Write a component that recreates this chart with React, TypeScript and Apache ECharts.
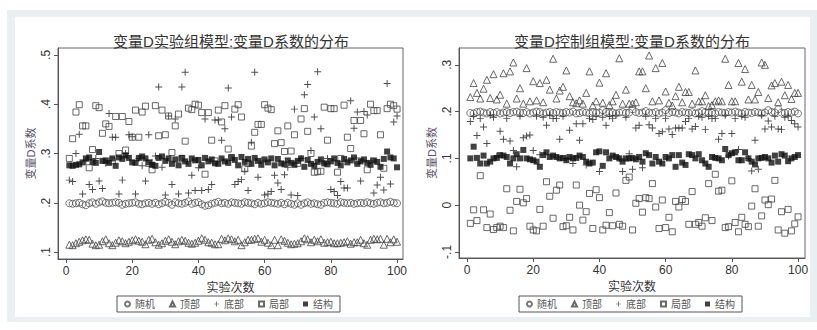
import React, { useEffect, useRef } from 'react';
import * as echarts from 'echarts';

const seriesNames = ['随机', '顶部', '底部', '局部', '结构'];
const trials = Array.from({ length: 100 }, (_, i) => i + 1);
const xTicks = [0, 20, 40, 60, 80, 100];
const expYTicks = [0.1, 0.2, 0.3, 0.4, 0.5];
const ctlYTicks = [-0.1, 0, 0.1, 0.2, 0.3];

// 实验组
const expRandom = [
  0.199, 0.198, 0.199, 0.2, 0.197, 0.195, 0.199, 0.201, 0.198, 0.201,
  0.203, 0.2, 0.199, 0.2, 0.201, 0.2, 0.196, 0.198, 0.199, 0.2,
  0.201, 0.198, 0.197, 0.199, 0.2, 0.198, 0.2, 0.197, 0.199, 0.202,
  0.2, 0.196, 0.201, 0.199, 0.198, 0.2, 0.203, 0.198, 0.2, 0.201,
  0.197, 0.194, 0.195, 0.198, 0.2, 0.202, 0.199, 0.2, 0.198, 0.201,
  0.2, 0.199, 0.198, 0.201, 0.2, 0.199, 0.197, 0.2, 0.198, 0.199,
  0.201, 0.2, 0.199, 0.198, 0.2, 0.197, 0.2, 0.198, 0.196, 0.199,
  0.196, 0.199, 0.201, 0.198, 0.199, 0.197, 0.196, 0.2, 0.201, 0.2,
  0.199, 0.198, 0.201, 0.2, 0.199, 0.2, 0.198, 0.199, 0.2, 0.199,
  0.201, 0.199, 0.198, 0.2, 0.201, 0.199, 0.2, 0.202, 0.2, 0.199,
];
const expTop = [
  0.115, 0.114, 0.118, 0.121, 0.124, 0.126, 0.125, 0.117, 0.114, 0.115,
  0.122, 0.126, 0.118, 0.114, 0.119, 0.124, 0.122, 0.118, 0.121, 0.124,
  0.126, 0.123, 0.121, 0.116, 0.125, 0.127, 0.12, 0.115, 0.118, 0.123,
  0.126, 0.121, 0.116, 0.122, 0.125, 0.123, 0.119, 0.117, 0.119, 0.123,
  0.128, 0.125, 0.12, 0.119, 0.116, 0.116, 0.127, 0.124, 0.128, 0.126,
  0.122, 0.125, 0.114, 0.12, 0.125, 0.125, 0.127, 0.128, 0.121, 0.125,
  0.119, 0.114, 0.125, 0.114, 0.126, 0.123, 0.119, 0.116, 0.117, 0.118,
  0.122, 0.128, 0.126, 0.12, 0.125, 0.122, 0.126, 0.119, 0.12, 0.121,
  0.118, 0.118, 0.119, 0.12, 0.122, 0.117, 0.12, 0.12, 0.125, 0.118,
  0.115, 0.125, 0.127, 0.126, 0.127, 0.115, 0.127, 0.12, 0.126, 0.121,
];
const expBottom = [
  0.246, 0.243, 0.3, 0.339, 0.218, 0.285, 0.237, 0.227, 0.29, 0.244,
  0.229, 0.28, 0.381, 0.333, 0.333, 0.218, 0.246, 0.3, 0.338, 0.334,
  0.218, 0.29, 0.275, 0.244, 0.338, 0.282, 0.295, 0.435, 0.272, 0.216,
  0.376, 0.237, 0.37, 0.218, 0.435, 0.465, 0.22, 0.256, 0.225, 0.271,
  0.225, 0.37, 0.227, 0.237, 0.368, 0.368, 0.327, 0.35, 0.433, 0.374,
  0.237, 0.243, 0.247, 0.264, 0.225, 0.323, 0.465, 0.252, 0.285, 0.216,
  0.218, 0.223, 0.256, 0.24, 0.227, 0.257, 0.272, 0.216, 0.39, 0.215,
  0.29, 0.419, 0.44, 0.306, 0.374, 0.466, 0.35, 0.28, 0.29, 0.227,
  0.223, 0.215, 0.243, 0.23, 0.23, 0.407, 0.351, 0.384, 0.244, 0.385,
  0.378, 0.285, 0.22, 0.236, 0.252, 0.226, 0.442, 0.238, 0.364, 0.376,
];
const expLocal = [
  0.29, 0.33, 0.384, 0.399, 0.356, 0.356, 0.271, 0.308, 0.397, 0.393,
  0.341, 0.36, 0.355, 0.285, 0.375, 0.3, 0.375, 0.307, 0.365, 0.333,
  0.388, 0.333, 0.384, 0.396, 0.28, 0.267, 0.397, 0.336, 0.388, 0.338,
  0.376, 0.302, 0.356, 0.38, 0.29, 0.325, 0.392, 0.389, 0.4, 0.398,
  0.383, 0.258, 0.383, 0.327, 0.285, 0.388, 0.364, 0.397, 0.309, 0.292,
  0.39, 0.399, 0.374, 0.269, 0.28, 0.315, 0.343, 0.359, 0.359, 0.399,
  0.392, 0.389, 0.32, 0.346, 0.322, 0.304, 0.356, 0.305, 0.338, 0.28,
  0.37, 0.391, 0.345, 0.3, 0.262, 0.263, 0.264, 0.394, 0.327, 0.391,
  0.391, 0.262, 0.29, 0.398, 0.333, 0.31, 0.367, 0.285, 0.367, 0.34,
  0.267, 0.4, 0.387, 0.387, 0.338, 0.27, 0.391, 0.4, 0.397, 0.39,
];
const expStruct = [
  0.276, 0.275, 0.277, 0.278, 0.282, 0.29, 0.292, 0.283, 0.281, 0.303,
  0.285, 0.286, 0.281, 0.29, 0.275, 0.292, 0.289, 0.296, 0.291, 0.282,
  0.281, 0.291, 0.294, 0.29, 0.282, 0.277, 0.275, 0.291, 0.294, 0.285,
  0.29, 0.279, 0.288, 0.276, 0.291, 0.284, 0.279, 0.29, 0.286, 0.287,
  0.276, 0.291, 0.284, 0.288, 0.28, 0.279, 0.29, 0.284, 0.281, 0.292,
  0.287, 0.276, 0.293, 0.283, 0.289, 0.279, 0.291, 0.285, 0.277, 0.288,
  0.282, 0.29, 0.276, 0.289, 0.28, 0.278, 0.286, 0.281, 0.277, 0.285,
  0.29, 0.273, 0.287, 0.279, 0.275, 0.283, 0.288, 0.28, 0.278, 0.284,
  0.29, 0.281, 0.276, 0.289, 0.282, 0.286, 0.292, 0.279, 0.284, 0.288,
  0.281, 0.277, 0.286, 0.283, 0.273, 0.289, 0.304, 0.292, 0.29, 0.272,
];

// 控制组
const ctlRandom = [
  0.197, 0.196, 0.199, 0.2, 0.198, 0.196, 0.199, 0.197, 0.199, 0.196,
  0.198, 0.199, 0.197, 0.199, 0.2, 0.198, 0.197, 0.199, 0.196, 0.198,
  0.2, 0.199, 0.196, 0.198, 0.199, 0.197, 0.199, 0.198, 0.197, 0.199,
  0.198, 0.2, 0.196, 0.197, 0.199, 0.198, 0.196, 0.199, 0.197, 0.198,
  0.203, 0.199, 0.197, 0.198, 0.196, 0.198, 0.199, 0.197, 0.198, 0.205,
  0.199, 0.197, 0.198, 0.201, 0.198, 0.197, 0.199, 0.196, 0.198, 0.203,
  0.197, 0.199, 0.198, 0.196, 0.199, 0.198, 0.197, 0.199, 0.196, 0.198,
  0.201, 0.199, 0.197, 0.198, 0.196, 0.199, 0.198, 0.197, 0.199, 0.198,
  0.2, 0.198, 0.196, 0.199, 0.198, 0.197, 0.199, 0.198, 0.196, 0.198,
  0.203, 0.199, 0.198, 0.205, 0.198, 0.197, 0.199, 0.198, 0.2, 0.196,
];
const ctlTop = [
  0.231, 0.261, 0.24, 0.228, 0.249, 0.268, 0.229, 0.28, 0.226, 0.236,
  0.282, 0.217, 0.286, 0.305, 0.228, 0.25, 0.217, 0.293, 0.222, 0.265,
  0.224, 0.261, 0.22, 0.268, 0.247, 0.313, 0.228, 0.245, 0.253, 0.288,
  0.233, 0.22, 0.218, 0.224, 0.217, 0.24, 0.286, 0.213, 0.222, 0.262,
  0.219, 0.282, 0.214, 0.222, 0.236, 0.314, 0.217, 0.247, 0.217, 0.217,
  0.22, 0.286, 0.286, 0.25, 0.32, 0.222, 0.293, 0.224, 0.304, 0.243,
  0.219, 0.213, 0.233, 0.253, 0.22, 0.242, 0.242, 0.217, 0.288, 0.222,
  0.222, 0.235, 0.212, 0.214, 0.222, 0.224, 0.222, 0.313, 0.257, 0.222,
  0.222, 0.304, 0.264, 0.291, 0.226, 0.257, 0.226, 0.242, 0.305, 0.3,
  0.229, 0.256, 0.261, 0.22, 0.264, 0.235, 0.257, 0.227, 0.24, 0.24,
];
const ctlBottom = [
  0.179, 0.19, 0.149, 0.185, 0.167, 0.132, 0.192, 0.188, 0.105, 0.158,
  0.141, 0.185, 0.137, 0.117, 0.082, 0.19, 0.144, 0.148, 0.15, 0.117,
  0.19, 0.108, 0.188, 0.171, 0.192, 0.185, 0.185, 0.141, 0.19, 0.1,
  0.16, 0.089, 0.174, 0.139, 0.174, 0.086, 0.185, 0.183, 0.19, 0.072,
  0.188, 0.171, 0.19, 0.185, 0.192, 0.1, 0.072, 0.188, 0.11, 0.077,
  0.165, 0.171, 0.08, 0.19, 0.172, 0.165, 0.185, 0.153, 0.157, 0.185,
  0.163, 0.151, 0.165, 0.165, 0.165, 0.179, 0.185, 0.163, 0.168, 0.19,
  0.188, 0.162, 0.19, 0.185, 0.185, 0.141, 0.153, 0.192, 0.105, 0.153,
  0.185, 0.119, 0.19, 0.188, 0.1, 0.073, 0.139, 0.077, 0.192, 0.163,
  0.18, 0.167, 0.19, 0.163, 0.162, 0.188, 0.19, 0.181, 0.174, 0.167,
];
const ctlLocal = [
  -0.039, -0.01, -0.033, 0.063, -0.01, -0.048, -0.019, -0.052, -0.048, -0.045,
  -0.048, 0.035, -0.011, -0.055, 0.008, 0.034, 0.005, 0.014, -0.045, -0.053,
  -0.055, -0.009, -0.045, 0.05, 0.019, -0.028, 0.032, 0.043, -0.046, -0.044,
  -0.026, -0.053, 0.043, 0.0, -0.032, -0.014, 0.025, -0.05, 0.033, 0.016,
  -0.053, -0.043, -0.016, -0.044, 0.026, -0.041, -0.045, 0.053, 0.06, -0.053,
  0.004, 0.014, -0.015, 0.016, 0.014, 0.046, -0.004, -0.05, 0.011, -0.048,
  -0.026, -0.057, 0.008, -0.004, 0.012, 0.008, -0.041, 0.029, -0.041, -0.037,
  -0.045, -0.027, 0.046, -0.033, 0.066, 0.03, 0.032, -0.048, -0.046, 0.052,
  -0.037, -0.057, -0.026, -0.041, -0.046, -0.002, 0.035, -0.045, -0.023, 0.011,
  0.001, 0.013, 0.053, -0.053, -0.014, -0.06, -0.009, -0.055, -0.04, -0.025,
];
const ctlStruct = [
  0.1, 0.125, 0.101, 0.089, 0.106, 0.089, 0.093, 0.1, 0.101, 0.107,
  0.106, 0.103, 0.089, 0.1, 0.109, 0.1, 0.118, 0.1, 0.098, 0.096,
  0.093, 0.082, 0.107, 0.113, 0.103, 0.106, 0.103, 0.1, 0.101, 0.096,
  0.103, 0.1, 0.101, 0.106, 0.103, 0.093, 0.089, 0.091, 0.113, 0.115,
  0.084, 0.113, 0.1, 0.106, 0.103, 0.1, 0.093, 0.1, 0.1, 0.101,
  0.098, 0.103, 0.093, 0.111, 0.107, 0.089, 0.103, 0.093, 0.089, 0.103,
  0.1, 0.107, 0.082, 0.107, 0.091, 0.086, 0.109, 0.107, 0.1, 0.109,
  0.096, 0.089, 0.082, 0.103, 0.101, 0.1, 0.096, 0.12, 0.107, 0.111,
  0.113, 0.096, 0.096, 0.113, 0.1, 0.093, 0.087, 0.1, 0.101, 0.103,
  0.1, 0.091, 0.106, 0.093, 0.109, 0.106, 0.094, 0.1, 0.103, 0.107,
];

const expData = [expRandom, expTop, expBottom, expLocal, expStruct];
const ctlData = [ctlRandom, ctlTop, ctlBottom, ctlLocal, ctlStruct];

const FONT = "'Liberation Sans', 'Noto Sans CJK SC', sans-serif";
const PLUS = 'path://M0,4.3H10V5.7H0Z M4.3,0H5.7V10H4.3Z';
const HOLLOW = 'rgba(255,255,255,0)';

const markerStyles: any[] = [
  { symbol: 'circle', symbolSize: 7, itemStyle: { color: HOLLOW, borderColor: '#555', borderWidth: 1 } },
  { symbol: 'triangle', symbolSize: 7, itemStyle: { color: HOLLOW, borderColor: '#444', borderWidth: 1 } },
  { symbol: PLUS, symbolSize: 7, itemStyle: { color: '#222' } },
  { symbol: 'rect', symbolSize: 6, itemStyle: { color: HOLLOW, borderColor: '#444', borderWidth: 1 } },
  { symbol: 'rect', symbolSize: 6, itemStyle: { color: '#111' } },
];

const fmtY = (v: number) => {
  const r = Math.round(v * 10) / 10;
  if (r === 0) return '0';
  return String(r).replace('0.', '.');
};

function makeXAxis(gridIndex: number) {
  return {
    type: 'value',
    gridIndex,
    min: -2.42,
    max: gridIndex === 0 ? 101.8 : 102.1,
    name: '实验次数',
    nameLocation: 'middle',
    nameGap: 19,
    nameTextStyle: { fontSize: 12, color: '#333', fontFamily: FONT },
    axisLine: { show: true, onZero: false, lineStyle: { color: '#555', width: 1 } },
    axisTick: { show: true, length: 4, customValues: xTicks, lineStyle: { color: '#555' } },
    axisLabel: { customValues: xTicks, fontSize: 12, color: '#333', margin: 6, fontFamily: FONT },
    splitLine: { show: false },
  };
}

function makeYAxis(gridIndex: number, min: number, max: number, ticks: number[]) {
  return {
    type: 'value',
    gridIndex,
    min,
    max,
    name: '变量D系数',
    nameLocation: 'middle',
    nameGap: 22,
    nameRotate: 90,
    nameTextStyle: { fontSize: 11, color: '#5a5066', fontFamily: FONT },
    axisLine: { show: true, onZero: false, lineStyle: { color: '#555', width: 1 } },
    axisTick: { show: true, length: 4, customValues: ticks, lineStyle: { color: '#555' } },
    axisLabel: {
      customValues: ticks,
      rotate: 90,
      fontSize: 12,
      color: '#333',
      margin: 6,
      fontFamily: FONT,
      formatter: fmtY,
    },
    splitLine: { show: false },
  };
}

function makeSeries(data: number[][], axisIndex: number) {
  return seriesNames.map((name, k) => ({
    type: 'scatter',
    name,
    xAxisIndex: axisIndex,
    yAxisIndex: axisIndex,
    symbol: markerStyles[k].symbol,
    symbolSize: markerStyles[k].symbolSize,
    itemStyle: markerStyles[k].itemStyle,
    emphasis: { disabled: true },
    z: 2 + k,
    data: trials.map((t, i) => [t, data[k][i]]),
  }));
}

function makeLegend(left: number) {
  return {
    left,
    top: 296,
    orient: 'horizontal',
    data: seriesNames,
    itemWidth: 5,
    itemHeight: 5,
    itemGap: 14,
    padding: [3, 7, 3, 7],
    borderColor: '#555',
    borderWidth: 1,
    selectedMode: false,
    textStyle: { fontSize: 10, color: '#555', fontFamily: FONT },
  };
}

export default function App() {
  const ref = useRef<HTMLDivElement>(null);
  useEffect(() => {
    document.body.style.margin = '0';
    if (!ref.current) return;
    const chart = echarts.init(ref.current, null, { renderer: 'svg' });
    chart.setOption({
      animation: false,
      backgroundColor: '#ffffff',
      graphic: [
        { type: 'rect', z: -20, silent: true, shape: { x: 7, y: 10, width: 810, height: 312 }, style: { fill: '#e8f0f2' } },
        { type: 'rect', z: -19, silent: true, shape: { x: 15, y: 17, width: 795, height: 300 }, style: { fill: '#ffffff' } },
      ],
      title: [
        {
          text: '变量D实验组模型:变量D系数的分布',
          left: 231,
          top: 34,
          textAlign: 'center',
          padding: 0,
          textStyle: { fontSize: 15, fontWeight: 'normal', color: '#333', fontFamily: FONT },
        },
        {
          text: '变量D控制组模型:变量D系数的分布',
          left: 632,
          top: 34,
          textAlign: 'center',
          padding: 0,
          textStyle: { fontSize: 15, fontWeight: 'normal', color: '#333', fontFamily: FONT },
        },
      ],
      legend: [makeLegend(117), makeLegend(519)],
      grid: [
        { left: 58, top: 48, width: 345, height: 211, containLabel: false, outerBoundsMode: 'none', show: true, borderColor: '#666', borderWidth: 1, backgroundColor: 'transparent' },
        { left: 459, top: 48, width: 346, height: 210, containLabel: false, outerBoundsMode: 'none', show: true, borderColor: '#666', borderWidth: 1, backgroundColor: 'transparent' },
      ],
      xAxis: [makeXAxis(0), makeXAxis(1)],
      yAxis: [makeYAxis(0, 0.086, 0.514, expYTicks), makeYAxis(1, -0.113, 0.336, ctlYTicks)],
      series: [...makeSeries(expData, 0), ...makeSeries(ctlData, 1)],
    });
    return () => chart.dispose();
  }, []);
  return <div ref={ref} style={{ width: 817, height: 330 }} />;
}
